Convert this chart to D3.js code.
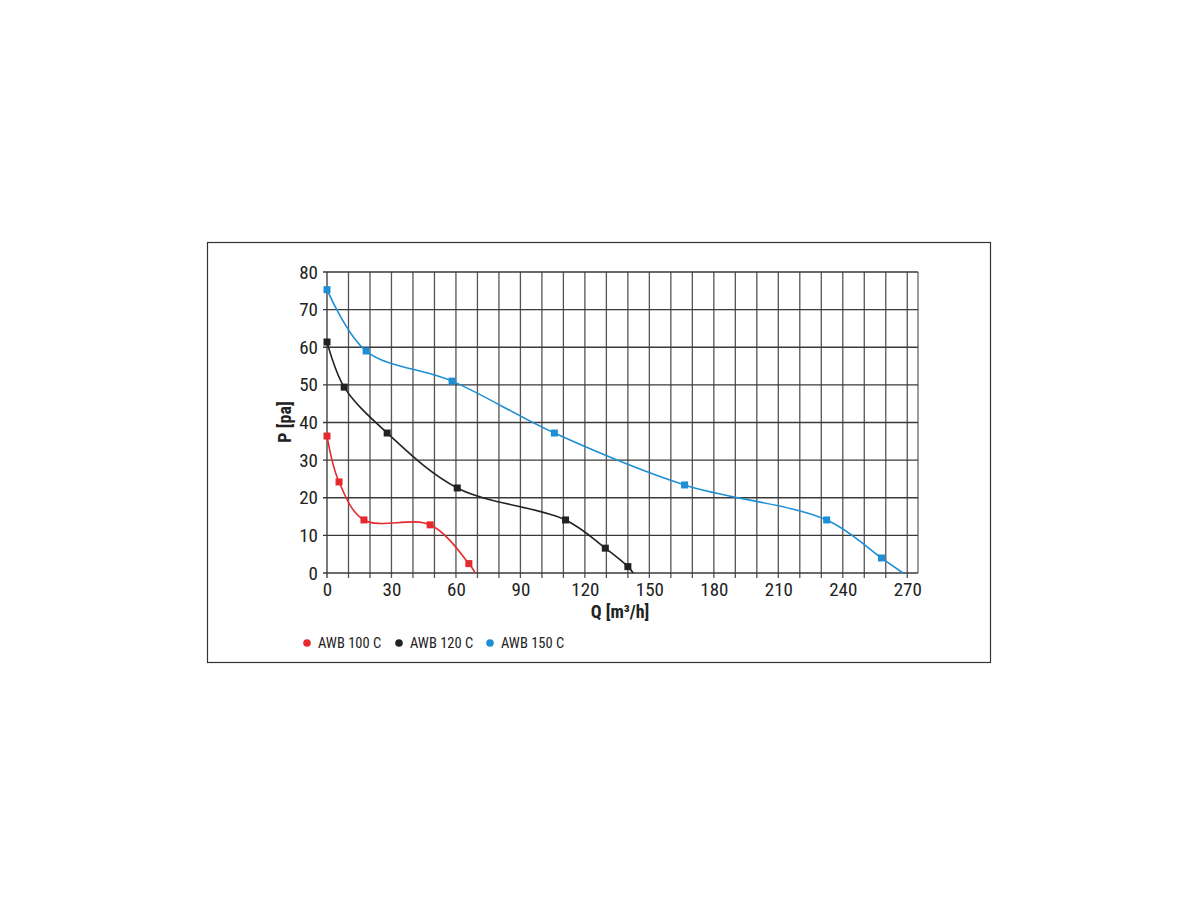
<!DOCTYPE html>
<html>
<head>
<meta charset="utf-8">
<script src="https://cdn.jsdelivr.net/npm/d3@7"></script>
<style>
  body { margin: 0; background: #fff; }
  svg { display: block; }
  text { font-family: "Liberation Sans Narrow", "Roboto Condensed", "Arial Narrow", "Liberation Sans", sans-serif; }
</style>
</head>
<body>
<svg id="chart" width="1200" height="900"></svg>
<script>
// ---- data (Q in m3/h, P in pa) ----
const seriesNames = ["AWB 100 C", "AWB 120 C", "AWB 150 C"];
const seriesColors = ["#e52a2f", "#222222", "#1e8fd5"];

// measured points (drawn with markers)
const q100 = [0, 5.6, 17.2, 48, 66];
const p100 = [36.4, 24.2, 14.1, 12.8, 2.5];
const q120 = [0, 8, 28, 60.6, 111, 129.5, 140];
const p120 = [61.4, 49.4, 37.2, 22.6, 14.1, 6.6, 1.7];
const q150 = [0, 18.2, 58.2, 105.8, 166.4, 232.5, 258];
const p150 = [75.3, 59.0, 51.0, 37.2, 23.4, 14.1, 4.0];
// curve end points on the Q axis (no marker)
const qEnd = [69, 142.5, 268];
const pEnd = [0, 0, 0];

const xTicks = [0, 30, 60, 90, 120, 150, 180, 210, 240, 270];
const yTicks = [0, 10, 20, 30, 40, 50, 60, 70, 80];
const xGrid = d3.range(0, 271, 10);

// ---- layout ----
const svg = d3.select("#chart");
const plotL = 327, plotR = 918, plotT = 272, plotB = 573;
const x = d3.scaleLinear().domain([0, 275]).range([plotL, plotR]);
const y = d3.scaleLinear().domain([0, 80]).range([plotB, plotT]);

// outer frame
svg.append("rect").attr("x", 207.5).attr("y", 242.5).attr("width", 783).attr("height", 420)
  .attr("fill", "none").attr("stroke", "#333").attr("stroke-width", 1.2);

const grid = svg.append("g");
// vertical grid lines
grid.selectAll("line.v").data(xGrid).join("line")
  .attr("class", "v")
  .attr("x1", d => x(d)).attr("x2", d => x(d))
  .attr("y1", y(80)).attr("y2", y(0) + 5)
  .attr("stroke", d => (d === 0 ? "#333" : "#555"))
  .attr("stroke-width", 1.3);
// right border
grid.append("line").attr("x1", plotR).attr("x2", plotR).attr("y1", y(80)).attr("y2", y(0))
  .attr("stroke", "#666").attr("stroke-width", 1.3);
// horizontal grid lines
grid.selectAll("line.h").data(yTicks).join("line")
  .attr("class", "h")
  .attr("x1", plotL - 4).attr("x2", plotR)
  .attr("y1", d => y(d)).attr("y2", d => y(d))
  .attr("stroke", "#3a3a3a").attr("stroke-width", 1.3);

// tick labels via d3 axes
const xAxis = d3.axisBottom(x).tickValues(xTicks).tickSize(0).tickPadding(10);
const gx = svg.append("g").attr("transform", `translate(0,${plotB})`).call(xAxis);
gx.select(".domain").remove();
gx.selectAll("text").attr("font-size", 19).attr("fill", "#222")
  .style("font-family", '"Liberation Sans Narrow", "Roboto Condensed", "Liberation Sans", sans-serif');

const yAxis = d3.axisLeft(y).tickValues(yTicks).tickSize(0).tickPadding(9);
const gy = svg.append("g").attr("transform", `translate(${plotL},0)`).call(yAxis);
gy.select(".domain").remove();
gy.selectAll("text").attr("font-size", 19).attr("fill", "#222")
  .style("font-family", '"Liberation Sans Narrow", "Roboto Condensed", "Liberation Sans", sans-serif');

// axis titles
svg.append("text").attr("x", 620).attr("y", 618).attr("text-anchor", "middle")
  .attr("font-size", 18).attr("font-weight", "bold").attr("fill", "#222")
  .text("Q [m³/h]");
svg.append("text").attr("transform", "translate(291,422) rotate(-90)").attr("text-anchor", "middle")
  .attr("font-size", 18).attr("font-weight", "bold").attr("fill", "#222")
  .text("P [pa]");

// series
const qs = [q100, q120, q150];
const ps = [p100, p120, p150];
const line = d3.line().x(d => x(d[0])).y(d => y(d[1])).curve(d3.curveCatmullRom.alpha(0.5));

qs.forEach((qArr, i) => {
  const pts = qArr.map((q, j) => [q, ps[i][j]]);
  const curvePts = pts.concat([[qEnd[i], pEnd[i]]]);
  svg.append("path").datum(curvePts)
    .attr("d", line).attr("fill", "none")
    .attr("stroke", seriesColors[i]).attr("stroke-width", 1.6);
  svg.append("g").selectAll("rect").data(pts).join("rect")
    .attr("x", d => x(d[0]) - 3.5).attr("y", d => y(d[1]) - 3.5)
    .attr("width", 7).attr("height", 7)
    .attr("fill", seriesColors[i]);
});

// legend
const legendX = [307, 399, 490];
const lg = svg.append("g");
seriesNames.forEach((name, i) => {
  lg.append("circle").attr("cx", legendX[i]).attr("cy", 643).attr("r", 3.8).attr("fill", seriesColors[i]);
  lg.append("text").attr("x", legendX[i] + 11).attr("y", 648).attr("font-size", 14.5).attr("fill", "#222").text(name);
});
</script>
</body>
</html>
